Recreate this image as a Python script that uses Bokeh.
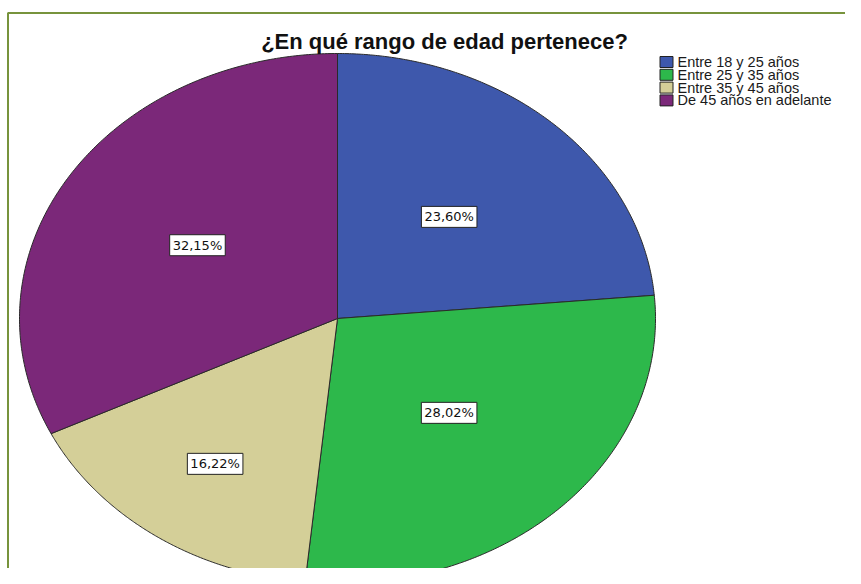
import numpy as np
from bokeh.plotting import figure
from bokeh.models import Range1d, ColumnDataSource
from bokeh.core.properties import value
from bokeh.embed import file_html
from bokeh.resources import INLINE

# ---- data ----
title_text = "¿En qué rango de edad pertenece?"
categories = ["Entre 18 y 25 años", "Entre 25 y 35 años", "Entre 35 y 45 años", "De 45 años en adelante"]
percents = [23.60, 28.02, 16.22, 32.15]
colors = ["#3E58AC", "#2DB84B", "#D4CF98", "#7B2879"]

# ---- layout (pixel-like data space) ----
W, H = 845, 568
cx, cy, rx, ry = 337, 318, 318, 265
label_frac = [0.52, 0.50, 0.67, 0.52]

p = figure(width=W, height=H, output_backend="svg", toolbar_location=None,
           x_range=Range1d(0, W), y_range=Range1d(H, 0),
           x_axis_type=None, y_axis_type=None, min_border=0,
           background_fill_color="white", border_fill_color="white",
           outline_line_color=None)
p.grid.visible = False

# border (top and left)
p.line([7.5, 7.5, W], [H, 12.5, 12.5], line_color="#77933C", line_width=2)

# pie slices on an ellipse
vals = np.array(percents, dtype=float)
fr = vals / vals.sum()
ends = np.cumsum(fr) * 2 * np.pi
starts = ends - fr * 2 * np.pi
xs, ys, lx, ly = [], [], [], []
for s, e, f in zip(starts, ends, label_frac):
    t = np.linspace(s, e, 200)
    xs.append(list(np.concatenate([[cx], cx + rx * np.sin(t), [cx]])))
    ys.append(list(np.concatenate([[cy], cy - ry * np.cos(t), [cy]])))
    m = (s + e) / 2
    lx.append(cx + f * rx * np.sin(m))
    ly.append(cy - f * ry * np.cos(m))

src = ColumnDataSource(dict(xs=xs, ys=ys, color=colors))
p.patches("xs", "ys", source=src, fill_color="color", line_color="#2a2a2a", line_width=1)

labels = [f"{v:.2f}".replace(".", ",") + "%" for v in percents]
p.text(x=lx, y=ly, text=labels, text_align="center", text_baseline="middle",
       text_font=value("DejaVu Sans"), text_font_size="13px", text_color="#111111",
       background_fill_color="white", border_line_color="#222222", border_line_width=1,
       padding=3)

# title
p.text(x=[444], y=[41], text=[title_text], text_align="center", text_baseline="middle",
       text_font=value("Liberation Sans"), text_font_style="bold", text_font_size="22px",
       text_color="#111111")

# legend
n = len(categories)
leg_y = [61.5 + i * 12.8 for i in range(n)]
p.rect(x=[666] * n, y=leg_y, width=13, height=11, width_units="screen", height_units="screen",
       fill_color=colors, line_color="#222222", line_width=1)
p.text(x=[677] * n, y=leg_y, text=categories, text_align="left", text_baseline="middle",
       text_font=value("Liberation Sans"), text_font_size="14.5px", text_color="#1a1a1a")

open("out.html", "w").write(file_html(p, INLINE))
